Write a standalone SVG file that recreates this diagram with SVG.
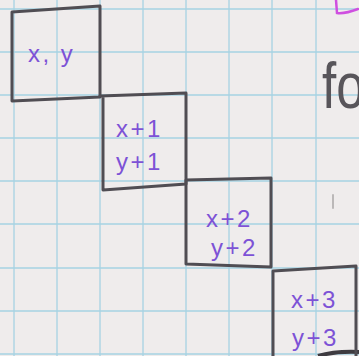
<svg xmlns="http://www.w3.org/2000/svg" width="359" height="356" viewBox="0 0 359 356">
<defs>
<style>
.grid line{stroke:#a6d3e3;stroke-width:1.3}
.box{fill:none;stroke:#504d53;stroke-width:3;stroke-linejoin:round;stroke-linecap:round}
.lbl{font-family:"Liberation Sans",Arial,sans-serif;font-size:24px;fill:#7d52d6;letter-spacing:2.5px}
</style>
</defs>
<rect width="359" height="356" fill="#efecec"/>
<g class="grid">
<line x1="14" y1="0" x2="14" y2="356"/>
<line x1="57" y1="0" x2="57" y2="356"/>
<line x1="100" y1="0" x2="100" y2="356"/>
<line x1="143" y1="0" x2="143" y2="356"/>
<line x1="186" y1="0" x2="186" y2="356"/>
<line x1="229" y1="0" x2="229" y2="356"/>
<line x1="272" y1="0" x2="272" y2="356"/>
<line x1="316" y1="0" x2="316" y2="356"/>
<line x1="0" y1="9" x2="359" y2="9"/>
<line x1="0" y1="52" x2="359" y2="52"/>
<line x1="0" y1="95" x2="359" y2="95"/>
<line x1="0" y1="138" x2="359" y2="138"/>
<line x1="0" y1="181" x2="359" y2="181"/>
<line x1="0" y1="224" x2="359" y2="224"/>
<line x1="0" y1="268" x2="359" y2="268"/>
<line x1="0" y1="311" x2="359" y2="311"/>
<line x1="0" y1="354" x2="359" y2="354"/>
</g>
<g id="extras">
<text x="322" y="108" font-family="Liberation Sans,Arial,sans-serif" font-size="64" fill="#58555a" transform="translate(322 0) scale(0.8 1) translate(-322 0)">fo</text>
<path d="M336,0 L337,13 Q345,14 358,9" fill="none" stroke="#cf4fe0" stroke-width="2.5" stroke-linecap="round"/>
<path d="M318,356 Q335,351 359,352" fill="none" stroke="#3e3b40" stroke-width="4"/>
<path d="M333,195 L333,208" stroke="#bbb8b8" stroke-width="2" stroke-linecap="round"/>
</g>
<g id="node1">
<path class="box" d="M12,12 L100,6 L100,97 L12,101 Z"/>
<text class="lbl" x="28" y="62" font-size="27">x, y</text>
</g>
<g id="node2">
<path class="box" d="M100,96 L186,93 L186,184 L103,190 L103,97"/>
<text class="lbl" x="116" y="137">x+1</text>
<text class="lbl" x="116" y="170">y+1</text>
</g>
<g id="node3">
<path class="box" d="M186,180 L271,178 L271,267 L186,264 Z"/>
<text class="lbl" x="206" y="227">x+2</text>
<text class="lbl" x="211" y="256">y+2</text>
</g>
<g id="node4">
<path class="box" d="M273,356 L273,271 L356,266 L356,356"/>
<text class="lbl" x="291" y="308">x+3</text>
<text class="lbl" x="292" y="346">y+3</text>
</g>
</svg>
